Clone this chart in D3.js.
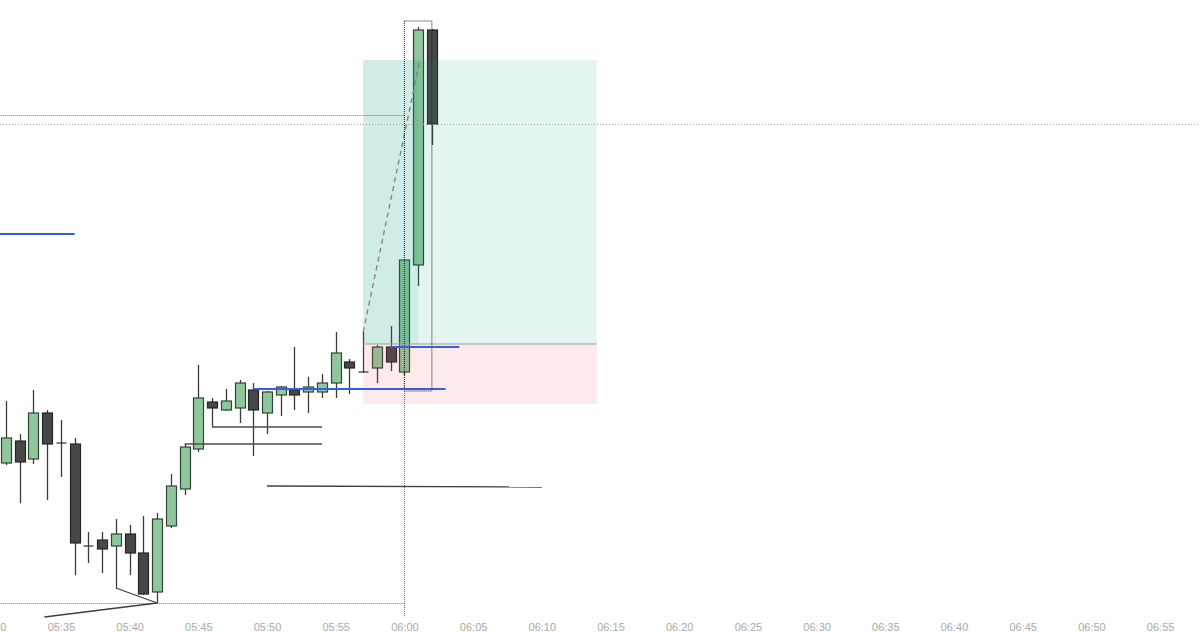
<!DOCTYPE html>
<html>
<head>
<meta charset="utf-8">
<script src="https://cdn.jsdelivr.net/npm/d3@7"></script>
<style>
  body { margin: 0; background: #fff; }
  svg { display: block; }
  .tick text { font-family: "Liberation Sans", Arial, sans-serif; font-size: 11px; fill: #a9a9a9; }
</style>
</head>
<body>
<div id="chart"></div>
<script>
// candle data (1 minute bars)
const times  = ["05:31","05:32","05:33","05:34","05:35","05:36","05:37","05:38","05:39","05:40",
                "05:41","05:42","05:43","05:44","05:45","05:46","05:47","05:48","05:49","05:50",
                "05:51","05:52","05:53","05:54","05:55","05:56","05:57","05:58","05:59","06:00",
                "06:01","06:02"];
const opens  = [18042.25,18047.75,18043.25,18054.75,18047.25,18047,18021.5,18023,18021.5,18024.5,
                18019.75,18010,18026.5,18035.75,18045.75,18057.5,18055.5,18056,18060.5,18054.75,
                18059.25,18060.5,18060,18060,18062.25,18067.5,18065,18066,18071.25,18065,
                18091.75,18150.5];
const highs  = [18057.75,18049.5,18060.5,18055.5,18053,18048.5,18025,18025,18028.25,18026.75,
                18029,18029.75,18039.5,18047,18066.75,18058.5,18060.75,18063,18062.25,18060.25,
                18061.5,18071.25,18063.75,18064.5,18075,18068.25,18075,18071.75,18076.5,18093,
                18151.25,18150.75];
const lows   = [18041.75,18032.25,18042,18033,18038.75,18014.25,18017.25,18014.75,18011,18014.25,
                18009.25,18007.25,18026,18034.25,18045,18051.25,18055.25,18052.25,18044,18049.5,
                18054,18055.5,18054.75,18058.5,18058.5,18059.5,18064.75,18062.25,18065.25,18064.25,
                18086.5,18121.75];
const closes = [18048.5,18042.5,18054.75,18047,18047.25,18022.25,18021.5,18020.75,18024.5,18019.75,
                18009.5,18028.25,18036.5,18046.25,18058.5,18056,18057.75,18062.25,18055.5,18060,
                18061.25,18059.25,18061.25,18062.25,18069.75,18066,18065,18071.25,18067.5,18093,
                18150.5,18127];

// axis
const tickLabels = ["05:30","05:35","05:40","05:45","05:50","05:55","06:00","06:05","06:10","06:15",
                    "06:20","06:25","06:30","06:35","06:40","06:45","06:50","06:55"];

// drawings: [start, end, price]
const blueLevels  = [["05:28","05:36",18099.5],["05:59","06:04",18071.25],["05:49","06:03",18060.75]];
const grayRays    = [["05:46","05:54",18051.25],["05:44","05:54",18047]];
const blueDotted  = [["05:28","06:00",18129.25],["05:28","06:00",18007.25]];
// sloped segments: [t1, p1, t2, p2]
const trendLines  = [["05:39",18011,"05:42",18007.25],["05:42",18007.25,"05:33:48",18003.75],
                     ["05:50",18036.5,"06:10",18036.25]];
const targetLine  = ["05:57",18075,"06:01:08",18143];
// long position tool
const position    = {start: "05:57", end: "06:14", entry: 18072, target: 18143, stop: 18057};
const overlapEnd  = "06:01";
const markerTime  = "06:00";
const markerRange = [18003.75, 18129.25];
const boxRange    = ["06:00","06:02",18060.25,18152.75];

const W = 1200, H = 632;
const parse = s => { const [h, m, sec] = s.split(":").map(Number); return new Date(2024, 0, 2, h, m, sec || 0); };

const x = d3.scaleTime().domain([parse("05:30"), parse("06:55")]).range([-7.8, 1160.1]);
const y = d3.scaleLinear().domain([18000, 18158]).range([632, 0]);

const svg = d3.select("#chart").append("svg").attr("width", W).attr("height", H);

const candles = times.map((t, i) => ({t: parse(t), o: opens[i], h: highs[i], l: lows[i], c: closes[i]}));
const bw = 10;

// candles
const cg = svg.append("g");
cg.selectAll("line.wick").data(candles).enter().append("line")
  .attr("class", "wick")
  .attr("x1", d => Math.round(x(d.t)) + 0.5).attr("x2", d => Math.round(x(d.t)) + 0.5)
  .attr("y1", d => y(d.h)).attr("y2", d => y(d.l))
  .attr("stroke", "#3b3b3b").attr("stroke-width", 1.3);

cg.selectAll("rect.body").data(candles.filter(d => d.o !== d.c)).enter().append("rect")
  .attr("class", "body")
  .attr("x", d => Math.round(x(d.t)) - bw / 2 + 0.5)
  .attr("y", d => y(Math.max(d.o, d.c)))
  .attr("width", bw)
  .attr("height", d => Math.max(1, Math.abs(y(d.o) - y(d.c))))
  .attr("fill", d => d.c > d.o ? "#8fc69b" : "#474747")
  .attr("stroke", d => d.c > d.o ? "#2e4634" : "#262626")
  .attr("stroke-width", 1.2);

cg.selectAll("line.doji").data(candles.filter(d => d.o === d.c)).enter().append("line")
  .attr("class", "doji")
  .attr("x1", d => Math.round(x(d.t)) - bw / 2 + 0.5).attr("x2", d => Math.round(x(d.t)) + bw / 2 + 0.5)
  .attr("y1", d => y(d.o)).attr("y2", d => y(d.o))
  .attr("stroke", "#3b3b3b").attr("stroke-width", 1.3);

// position zones
const zx1 = x(parse(position.start)), zx2 = x(parse(position.end));
svg.append("rect").attr("x", zx1).attr("y", y(position.target))
  .attr("width", zx2 - zx1).attr("height", y(position.entry) - y(position.target))
  .attr("fill", "rgba(8,153,129,0.11)");
svg.append("rect").attr("x", zx1).attr("y", y(position.target))
  .attr("width", x(parse(overlapEnd)) - zx1).attr("height", y(position.entry) - y(position.target))
  .attr("fill", "rgba(8,153,129,0.09)");
svg.append("rect").attr("x", zx1).attr("y", y(position.entry))
  .attr("width", zx2 - zx1).attr("height", y(position.stop) - y(position.entry))
  .attr("fill", "rgba(242,54,69,0.11)");
svg.append("line").attr("x1", zx1).attr("x2", zx2)
  .attr("y1", y(position.entry)).attr("y2", y(position.entry))
  .attr("stroke", "#9c9c9c").attr("stroke-width", 1);

// dashed path to target
svg.append("line")
  .attr("x1", x(parse(targetLine[0]))).attr("y1", y(targetLine[1]))
  .attr("x2", x(parse(targetLine[2]))).attr("y2", y(targetLine[3]))
  .attr("stroke", "#808080").attr("stroke-width", 1.3).attr("stroke-dasharray", "5,4");

// last price line
svg.append("line").attr("x1", 0).attr("x2", W)
  .attr("y1", Math.round(y(closes[closes.length - 1])) + 0.5).attr("y2", Math.round(y(closes[closes.length - 1])) + 0.5)
  .attr("stroke", "#9ea39a").attr("stroke-width", 1).attr("stroke-dasharray", "1,2");

// blue dotted levels and vertical marker
svg.selectAll("line.bdot").data(blueDotted).enter().append("line")
  .attr("class", "bdot")
  .attr("x1", d => x(parse(d[0]))).attr("x2", d => x(parse(d[1])))
  .attr("y1", d => Math.round(y(d[2])) + 0.5).attr("y2", d => Math.round(y(d[2])) + 0.5)
  .attr("stroke", "#5f6fc4").attr("stroke-width", 1.1).attr("stroke-dasharray", "1,1");
svg.append("line")
  .attr("x1", Math.round(x(parse(markerTime))) + 0.5).attr("x2", Math.round(x(parse(markerTime))) + 0.5)
  .attr("y1", y(markerRange[1])).attr("y2", y(markerRange[0]))
  .attr("stroke", "#5f6fc4").attr("stroke-width", 1.1).attr("stroke-dasharray", "1,1");

// dotted selection box
const bx1 = x(parse(boxRange[0])), bx2 = x(parse(boxRange[1]));
svg.append("rect").attr("x", bx1).attr("y", y(boxRange[3]))
  .attr("width", bx2 - bx1).attr("height", y(boxRange[2]) - y(boxRange[3]))
  .attr("fill", "none").attr("stroke", "#1f1f1f").attr("stroke-width", 1).attr("stroke-dasharray", "1,1");

// gray rays
svg.selectAll("line.ray").data(grayRays).enter().append("line")
  .attr("class", "ray")
  .attr("x1", d => x(parse(d[0]))).attr("x2", d => x(parse(d[1])))
  .attr("y1", d => y(d[2])).attr("y2", d => y(d[2]))
  .attr("stroke", "#4d4d4d").attr("stroke-width", 1.3);

// trend lines
svg.selectAll("line.trend").data(trendLines).enter().append("line")
  .attr("class", "trend")
  .attr("x1", d => x(parse(d[0]))).attr("y1", d => y(d[1]))
  .attr("x2", d => x(parse(d[2]))).attr("y2", d => y(d[3]))
  .attr("stroke", "#3f3f3f").attr("stroke-width", 1.3);

// blue levels
svg.selectAll("line.blue").data(blueLevels).enter().append("line")
  .attr("class", "blue")
  .attr("x1", d => x(parse(d[0]))).attr("x2", d => x(parse(d[1])))
  .attr("y1", d => y(d[2])).attr("y2", d => y(d[2]))
  .attr("stroke", "#3461db").attr("stroke-width", 1.8);

// time axis
const xAxis = d3.axisBottom(x)
  .tickValues(tickLabels.map(parse))
  .tickFormat(d3.timeFormat("%H:%M"))
  .tickSize(0).tickPadding(3);
const ax = svg.append("g").attr("transform", `translate(0,${H - 12})`).call(xAxis);
ax.select(".domain").remove();
</script>
</body>
</html>
